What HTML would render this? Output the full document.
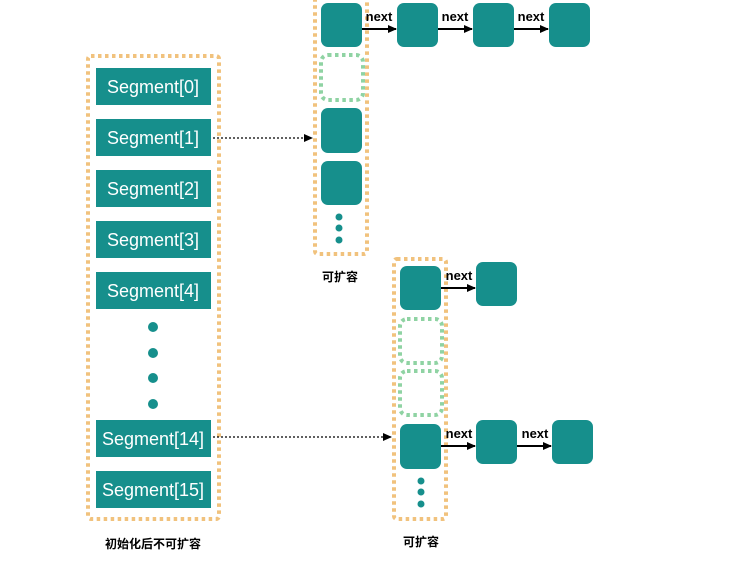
<!DOCTYPE html>
<html><head><meta charset="utf-8"><style>body{margin:0;background:#fff}svg{display:block}</style></head><body>
<svg width="744" height="565" viewBox="0 0 744 565" xmlns="http://www.w3.org/2000/svg" font-family="Liberation Sans, Noto Sans CJK SC, sans-serif">
<defs><marker id="a" markerWidth="9" markerHeight="8" refX="8" refY="4" orient="auto" markerUnits="userSpaceOnUse"><path d="M0,0 L9,4 L0,8 z" fill="#000"/></marker></defs>
<g fill="none" stroke="#f1c27d" stroke-width="4" stroke-dasharray="3.5 3.5">
<rect x="88" y="56" width="131" height="463" rx="3"/>
<rect x="315" y="-6" width="52" height="260" rx="3"/>
<rect x="394" y="259" width="52" height="260" rx="3"/>
</g>
<g fill="#168f8c">
<rect x="96" y="68" width="115" height="37"/><rect x="96" y="119" width="115" height="37"/>
<rect x="96" y="170" width="115" height="37"/><rect x="96" y="221" width="115" height="37"/>
<rect x="96" y="272" width="115" height="37"/><rect x="96" y="420" width="115" height="37"/>
<rect x="96" y="471" width="115" height="37"/>
<circle cx="153" cy="327" r="5"/><circle cx="153" cy="353" r="5"/><circle cx="153" cy="378" r="5"/><circle cx="153" cy="404" r="5"/>
<rect x="321" y="3" width="41" height="44" rx="7"/><rect x="321" y="108" width="41" height="45" rx="7"/><rect x="321" y="161" width="41" height="44" rx="7"/>
<rect x="397" y="3" width="41" height="44" rx="7"/><rect x="473" y="3" width="41" height="44" rx="7"/><rect x="549" y="3" width="41" height="44" rx="7"/>
<circle cx="339" cy="217" r="3.5"/><circle cx="339" cy="228" r="3.5"/><circle cx="339" cy="240" r="3.5"/>
<rect x="400" y="266" width="41" height="44" rx="7"/><rect x="400" y="424" width="41" height="45" rx="7"/>
<rect x="476" y="262" width="41" height="44" rx="7"/><rect x="476" y="420" width="41" height="44" rx="7"/><rect x="552" y="420" width="41" height="44" rx="7"/>
<circle cx="421" cy="481" r="3.5"/><circle cx="421" cy="492" r="3.5"/><circle cx="421" cy="504" r="3.5"/>
</g>
<g fill="none" stroke="#8fd3a3" stroke-width="4" stroke-dasharray="3.5 3.5">
<rect x="321" y="55" width="42" height="45" rx="7"/>
<rect x="400" y="319" width="42" height="44" rx="7"/>
<rect x="400" y="371" width="42" height="44" rx="7"/>
</g>
<g fill="#fff" font-size="18" text-anchor="middle">
<text x="153" y="93">Segment[0]</text><text x="153" y="144">Segment[1]</text><text x="153" y="195">Segment[2]</text>
<text x="153" y="246">Segment[3]</text><text x="153" y="297">Segment[4]</text><text x="153" y="445">Segment[14]</text><text x="153" y="496">Segment[15]</text>
</g>
<g stroke="#000" stroke-width="1.3" marker-end="url(#a)">
<line x1="213" y1="138" x2="312" y2="138" stroke-dasharray="2 2"/>
<line x1="213" y1="437" x2="391" y2="437" stroke-dasharray="2 2"/>
</g>
<g stroke="#000" stroke-width="2" marker-end="url(#a)">
<line x1="362" y1="29" x2="396" y2="29"/><line x1="438" y1="29" x2="472" y2="29"/><line x1="514" y1="29" x2="548" y2="29"/>
<line x1="441" y1="288" x2="475" y2="288"/><line x1="441" y1="446" x2="475" y2="446"/><line x1="517" y1="446" x2="551" y2="446"/>
</g>
<g font-size="13" font-weight="bold" fill="#000" text-anchor="middle">
<text x="379" y="21">next</text><text x="455" y="21">next</text><text x="531" y="21">next</text>
<text x="459" y="280">next</text><text x="459" y="438">next</text><text x="535" y="438">next</text>
</g>
<g font-size="12" font-weight="bold" fill="#000" text-anchor="middle">
<text x="153" y="548">初始化后不可扩容</text><text x="340" y="281">可扩容</text><text x="421" y="546">可扩容</text>
</g>
</svg>
</body></html>
